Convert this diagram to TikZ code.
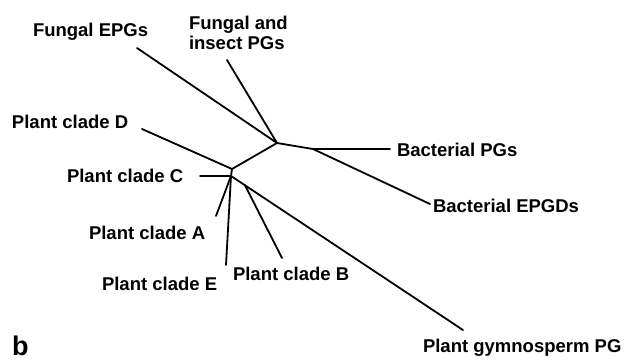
\documentclass[tikz,border=0pt]{standalone}
\usepackage{fontspec}
\setmainfont{Liberation Sans}
\begin{document}
\begin{tikzpicture}[x=1pt,y=-1pt,
  lbl/.style={anchor=base west,inner sep=0pt,outer sep=0pt,font=\fontsize{18.5}{20}\selectfont\bfseries},
  branch/.style={line width=1.8pt,line cap=round,line join=round,black}]
\useasboundingbox[fill=white] (0,0) rectangle (627,360);
% internal nodes
\coordinate (n1) at (277,143);
\coordinate (n2) at (232,169);
\coordinate (n3) at (231,176);
\coordinate (bs) at (313,149);
\coordinate (gs) at (245,185.3);
% tips
\coordinate (tBPG) at (390,149);
\coordinate (tBEP) at (430,204);
\coordinate (tFE) at (137,48);
\coordinate (tFI) at (227,60);
\coordinate (tD) at (142,129);
\coordinate (tC) at (200,176);
\coordinate (tA) at (216,216);
\coordinate (tE) at (226,265);
\coordinate (tB) at (282,258);
\coordinate (tG) at (463,330);
% branches
\draw[branch] (n1) -- (n2) -- (n3);
\draw[branch] (n1) -- (bs) -- (tBPG);
\draw[branch] (bs) -- (tBEP);
\draw[branch] (n1) -- (tFE);
\draw[branch] (n1) -- (tFI);
\draw[branch] (n2) -- (tD);
\draw[branch] (n3) -- (tC);
\draw[branch] (n3) -- (tA);
\draw[branch] (n3) -- (tE);
\draw[branch] (n3) -- (gs) -- (tG);
\draw[branch] (gs) -- (tB);
% labels
\node[lbl] (lFE) at (33,36) {Fungal EPGs};
\node[lbl] (lFI1) at (189,29) {Fungal and};
\node[lbl] (lFI2) at (189,49) {insect PGs};
\node[lbl] (lD) at (12,128.3) {Plant clade D};
\node[lbl] (lC) at (67,182) {Plant clade C};
\node[lbl] (lA) at (89,239) {Plant clade A};
\node[lbl] (lE) at (102,290) {Plant clade E};
\node[lbl] (lB) at (233,280) {Plant clade B};
\node[lbl] (lBPG) at (397,156.7) {Bacterial PGs};
\node[lbl] (lBEP) at (433,212.3) {Bacterial EPGDs};
\node[lbl] (lG) at (423,352.7) {Plant gymnosperm PG};
\node[anchor=base west,inner sep=0pt,font=\fontsize{27}{28}\selectfont\bfseries] (lb) at (12,355.5) {b};
\end{tikzpicture}
\end{document}
